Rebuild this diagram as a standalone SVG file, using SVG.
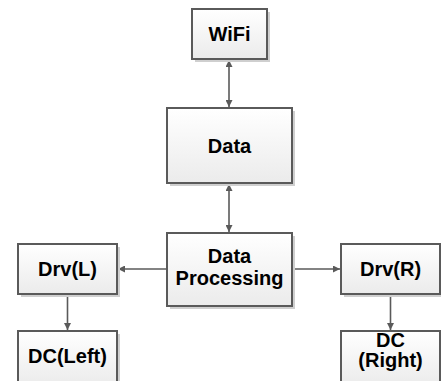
<svg xmlns="http://www.w3.org/2000/svg" width="441" height="381" viewBox="0 0 441 381">
<defs>
<linearGradient id="g" x1="0" y1="0" x2="0" y2="1">
<stop offset="0" stop-color="#ffffff"/>
<stop offset="1" stop-color="#ebebeb"/>
</linearGradient>
<marker id="ah" viewBox="0 0 10 10" refX="10" refY="5" markerWidth="8" markerHeight="7" markerUnits="userSpaceOnUse" orient="auto-start-reverse">
<path d="M0,0 L10,5 L0,10 z" fill="#5a5a5a"/>
</marker>
</defs>
<style>
.sh{fill:#cfcfcf;}
.bx{fill:url(#g);stroke:#5a5a5a;stroke-width:2;}
.t{font-family:"Liberation Sans",Arial,sans-serif;font-weight:bold;font-size:20px;fill:#000;text-anchor:middle;}
.c{stroke:#5a5a5a;stroke-width:1.6;fill:none;}
</style>
<rect width="441" height="381" fill="#ffffff"/>
<g id="connectors">
<line class="c" x1="229" y1="60" x2="229" y2="107" marker-start="url(#ah)" marker-end="url(#ah)"/>
<line class="c" x1="229" y1="184" x2="229" y2="232" marker-start="url(#ah)" marker-end="url(#ah)"/>
<line class="c" x1="167" y1="269" x2="118" y2="269" marker-end="url(#ah)"/>
<line class="c" x1="292" y1="269" x2="340" y2="269" marker-end="url(#ah)"/>
<line class="c" x1="67.5" y1="295" x2="67.5" y2="330" marker-end="url(#ah)"/>
<line class="c" x1="390.5" y1="295" x2="390.5" y2="330" marker-end="url(#ah)"/>
</g>
<g id="wifi">
<rect class="sh" x="195" y="12" width="75" height="50"/>
<rect class="bx" x="192" y="9" width="75" height="50"/>
<text class="t" x="229.5" y="41">WiFi</text>
</g>
<g id="data">
<rect class="sh" x="170" y="111" width="125" height="75"/>
<rect class="bx" x="167" y="108" width="125" height="75"/>
<text class="t" x="229.5" y="153">Data</text>
</g>
<g id="processing">
<rect class="sh" x="170" y="236" width="125" height="73"/>
<rect class="bx" x="167" y="233" width="125" height="73"/>
<text class="t" x="229.5" y="263">Data</text>
<text class="t" x="229.5" y="285">Processing</text>
</g>
<g id="drvL">
<rect class="sh" x="21" y="247" width="99" height="50"/>
<rect class="bx" x="18" y="244" width="99" height="50"/>
<text class="t" x="67.5" y="276">Drv(L)</text>
</g>
<g id="drvR">
<rect class="sh" x="344" y="247" width="99" height="50"/>
<rect class="bx" x="341" y="244" width="99" height="50"/>
<text class="t" x="390.5" y="276">Drv(R)</text>
</g>
<g id="dcLeft">
<rect class="sh" x="21" y="334" width="99" height="55"/>
<rect class="bx" x="18" y="331" width="99" height="55"/>
<text class="t" x="67.5" y="363">DC(Left)</text>
</g>
<g id="dcRight">
<rect class="sh" x="344" y="334" width="99" height="55"/>
<rect class="bx" x="341" y="331" width="99" height="55"/>
<text class="t" x="390.5" y="347">DC</text>
<text class="t" x="390.5" y="367">(Right)</text>
</g>
</svg>
